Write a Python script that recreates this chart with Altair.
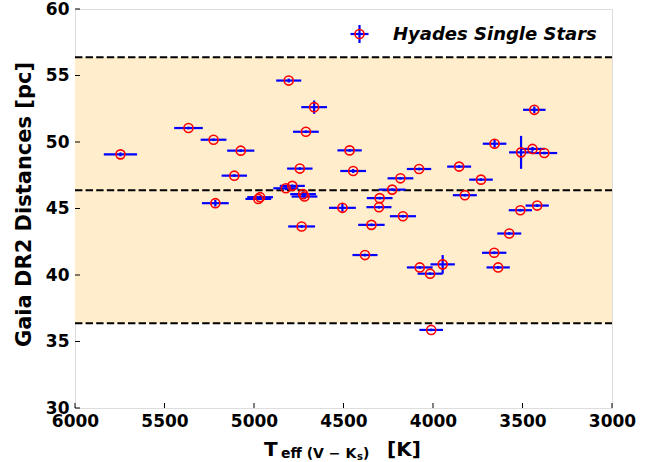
import altair as alt
import pandas as pd

# ---- data ----
teff = [5746, 5366, 5226, 5074, 5110, 5216, 4976, 4966, 4822, 4786, 4806, 4664, 4710, 4744,
        4726, 4718, 4734, 4506, 4466, 4446, 4380, 4344, 4298, 4302, 4228, 4182, 4168, 4078,
        4074, 4016, 3946, 4010, 3854, 3822, 3732, 3656, 3658, 3636, 3574, 3512, 3508, 3444,
        3434, 3418, 3378]
dist = [49.07, 51.05, 50.17, 49.35, 47.47, 45.40, 45.72, 45.85, 46.52, 46.70, 54.62, 52.62,
        50.77, 48.00, 46.08, 45.90, 43.65, 45.05, 49.37, 47.82, 41.50, 43.77, 45.78, 45.10,
        46.42, 47.27, 44.42, 47.97, 40.57, 40.10, 40.80, 35.87, 48.15, 46.00, 47.17, 49.87,
        41.67, 40.57, 43.12, 44.87, 49.22, 49.48, 52.42, 45.22, 49.17]
teff_err = [93, 80, 72, 76, 71, 75, 72, 72, 70, 70, 70, 72, 72, 71, 72, 72, 75, 75, 68, 72,
            70, 74, 72, 70, 75, 72, 73, 68, 72, 70, 68, 66, 67, 67, 66, 66, 68, 65, 67, 65,
            67, 68, 63, 65, 72]
dist_err = [0.15, 0.1, 0.1, 0.1, 0.1, 0.25, 0.1, 0.1, 0.15, 0.1, 0.15, 0.5, 0.1, 0.1, 0.2,
            0.2, 0.1, 0.3, 0.1, 0.15, 0.1, 0.1, 0.1, 0.1, 0.1, 0.1, 0.1, 0.1, 0.1, 0.1, 0.7,
            0.1, 0.1, 0.1, 0.1, 0.3, 0.1, 0.1, 0.1, 0.1, 1.24, 0.15, 0.25, 0.1, 0.1]
mean_dist = 46.37
band_half = 10.0
x_ticks = [6000, 5500, 5000, 4500, 4000, 3500, 3000]
y_ticks = [30, 35, 40, 45, 50, 55, 60]

W, H = 537, 399
FONT = "DejaVu Sans"

df = pd.DataFrame({"teff": teff, "dist": dist, "te": teff_err, "de": dist_err})
df["tlo"] = df.teff - df.te
df["thi"] = df.teff + df.te
df["dlo"] = df.dist - df.de
df["dhi"] = df.dist + df.de

xscale = alt.Scale(domain=[3000, 6000], reverse=True, nice=False, zero=False)
yscale = alt.Scale(domain=[30, 60], nice=False, zero=False)
xaxis = alt.Axis(values=x_ticks, title=None, grid=False, domain=False, ticks=False,
                 labelPadding=5, labelFontSize=17, labelFontWeight="bold", labelFont=FONT,
                 labelColor="black", format="d", labelFlush=False, labelOverlap=False)
yaxis = alt.Axis(values=y_ticks, title=None, grid=False, domain=False, ticks=False,
                 labelPadding=6, labelFontSize=17, labelFontWeight="bold", labelFont=FONT,
                 labelColor="black", format="d", labelFlush=False, labelOverlap=False)

band_df = pd.DataFrame({"lo": [mean_dist - band_half], "hi": [mean_dist + band_half]})
band = alt.Chart(band_df).mark_rect(color="#FFEDCC").encode(
    y=alt.Y("lo:Q", scale=yscale, axis=yaxis), y2="hi:Q",
    x=alt.value(0), x2=alt.value(W))

lines_df = pd.DataFrame({"y": [mean_dist - band_half, mean_dist, mean_dist + band_half]})
dashed = alt.Chart(lines_df).mark_rule(color="black", strokeWidth=2, strokeDash=[7.4, 3.2]).encode(
    y=alt.Y("y:Q", scale=yscale, axis=yaxis), x=alt.value(0), x2=alt.value(W))

xerr = alt.Chart(df).mark_rule(color="blue", strokeWidth=2.2).encode(
    x=alt.X("tlo:Q", scale=xscale, axis=xaxis), x2="thi:Q",
    y=alt.Y("dist:Q", scale=yscale, axis=yaxis))
yerr = alt.Chart(df).mark_rule(color="blue", strokeWidth=2.2).encode(
    x=alt.X("teff:Q", scale=xscale, axis=xaxis),
    y=alt.Y("dlo:Q", scale=yscale, axis=yaxis), y2="dhi:Q")
pts = alt.Chart(df).mark_point(shape="circle", filled=False, color="red", size=82,
                               strokeWidth=1.6, opacity=1).encode(
    x=alt.X("teff:Q", scale=xscale, axis=xaxis),
    y=alt.Y("dist:Q", scale=yscale, axis=yaxis))

# inward ticks
xt_df = pd.DataFrame({"v": x_ticks})
yt_df = pd.DataFrame({"v": y_ticks})
xt = alt.Chart(xt_df).mark_rule(color="black", strokeWidth=1).encode(
    x=alt.X("v:Q", scale=xscale, axis=xaxis), y=alt.value(H), y2=alt.value(H - 5))
yt = alt.Chart(yt_df).mark_rule(color="black", strokeWidth=1).encode(
    y=alt.Y("v:Q", scale=yscale, axis=yaxis), x=alt.value(0), x2=alt.value(5))

# legend
one = pd.DataFrame({"a": [0]})
lx, ly = 284.5, 25
leg_h = alt.Chart(one).mark_rule(color="blue", strokeWidth=2.2).encode(
    x=alt.value(lx - 9), x2=alt.value(lx + 9), y=alt.value(ly))
leg_v = alt.Chart(one).mark_rule(color="blue", strokeWidth=2.2).encode(
    x=alt.value(lx), y=alt.value(ly - 9), y2=alt.value(ly + 9))
leg_p = alt.Chart(one).mark_point(shape="circle", filled=False, color="red", size=82,
                                  strokeWidth=1.6, opacity=1).encode(
    x=alt.value(lx), y=alt.value(ly))
leg_t = alt.Chart(pd.DataFrame({"t": ["Hyades Single Stars"]})).mark_text(
    align="left", baseline="alphabetic", font=FONT, fontSize=18, fontWeight="bold",
    fontStyle="italic", color="black").encode(
    x=alt.value(318), y=alt.value(31), text="t:N")

# axis titles
def txt(s, x, y, size, align="left", baseline="alphabetic", angle=0):
    kw = dict(align=align, baseline=baseline, font=FONT, fontSize=size,
              fontWeight="bold", color="black")
    if angle:
        kw["angle"] = angle
    return alt.Chart(pd.DataFrame({"t": [s]})).mark_text(**kw).encode(
        x=alt.value(x), y=alt.value(y), text="t:N")

sub_x = 206
t_T = txt("T", 189, 447, 20)
t_sub = txt("eff (V \u2212 K", sub_x, 448.5, 14)
t_s = txt("s", sub_x + 76.1, 451, 10)
t_par = txt(")", sub_x + 76.1 + 6.0, 448.5, 14)
t_K = txt("[K]", 312, 447, 20)
t_y = txt("Gaia DR2 Distances [pc]", -50, H / 2 - 4, 21, align="center",
          baseline="middle", angle=270)

chart = alt.layer(
    band, dashed, xerr, yerr, pts, xt, yt,
    leg_h, leg_v, leg_p, leg_t,
    t_T, t_sub, t_s, t_par, t_K, t_y
).properties(
    width=W, height=H,
    padding={"left": 75, "top": 9, "right": 54, "bottom": 54},
    autosize=alt.AutoSizeParams(type="none"),
).configure_view(
    stroke="black", strokeWidth=1.2
).configure(background="white")

chart.save("out.html", embed_options={"renderer": "svg", "actions": False})
